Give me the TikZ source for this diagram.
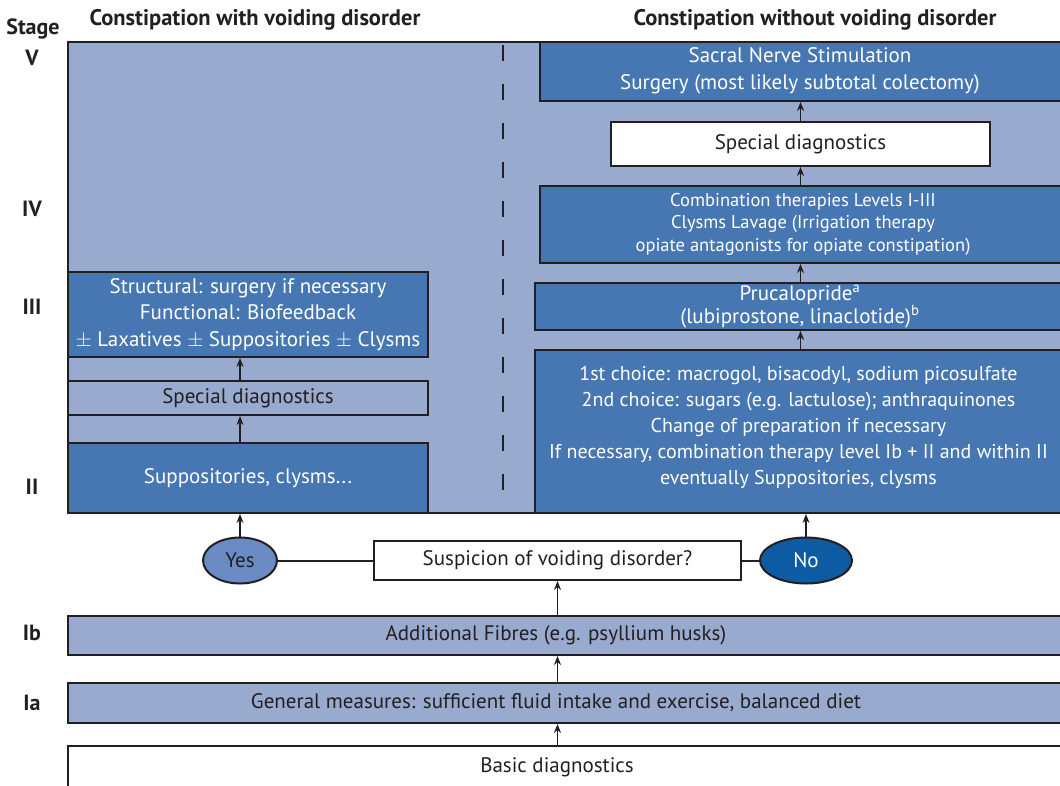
\documentclass[tikz,border=0pt]{standalone}
\usepackage{fontspec}
\setmainfont{PT Sans}
\usetikzlibrary{arrows.meta,shapes.geometric}
\definecolor{panelblue}{HTML}{98AACD}
\definecolor{boxblue}{HTML}{4677B2}
\definecolor{yesblue}{HTML}{6B8BC4}
\definecolor{noblue}{HTML}{0D5BA3}
\definecolor{ink}{HTML}{231F20}

\begin{document}
\begin{tikzpicture}[x=1pt,y=-1pt,
    box/.style={draw=ink,line width=2pt,rectangle,inner sep=0pt,align=center,
      font=\fontsize{21}{26.5}\selectfont},
    darkbox/.style={box,fill=boxblue,text=white},
    lightbox/.style={box,fill=panelblue,text=ink},
    whitebox/.style={box,fill=white,text=ink},
    boxtext/.style={align=center,inner sep=0pt,font=\fontsize{21}{26.5}\selectfont},
    answer/.style={draw=ink,line width=2pt,ellipse,inner sep=0pt,
      minimum height=46pt,font=\fontsize{21}{22}\selectfont},
    arr/.style={line width=1.6pt,draw=ink,-{Stealth[length=9pt,width=7pt]}},
    stagelabel/.style={font=\bfseries\fontsize{22}{22}\selectfont,text=ink},
    head/.style={font=\bfseries\fontsize{22.5}{22}\selectfont,text=ink}]
  \useasboundingbox (0,0) rectangle (1060,785);
  \clip (0,0) rectangle (1060,785);
  % Background panel
  \node[lightbox,minimum width=1004pt,minimum height=471pt] (panel) at (570,277.5) {};
  \coordinate (dtop) at (503,45);
  \coordinate (dbot) at (503,513);
  \draw[ink,line width=2pt,dash pattern=on 16pt off 23pt] (dtop) -- (dbot);
  % Headings
  \node[head] (hwith) at (255,20) {Constipation with voiding disorder};
  \node[head] (hwithout) at (815,20) {Constipation without voiding disorder};
  % Stages
  \node[stagelabel] (sstage) at (33,29) {Stage};
  \node[stagelabel] (s5) at (32,58) {V};
  \node[stagelabel] (s4) at (32,209) {IV};
  \node[stagelabel] (s3) at (32,307) {III};
  \node[stagelabel] (s2) at (32,487) {II};
  \node[stagelabel] (s1b) at (32,633) {Ib};
  \node[stagelabel] (s1a) at (32,703) {Ia};
  % Right column
  \node[darkbox,minimum width=532pt,minimum height=59pt] (sacral) at (806,71.5) {};
  \node[boxtext,text=white] (sacraltxt) at (800,71)
    {Sacral Nerve Stimulation\\Surgery (most likely subtotal colectomy)};
  \node[whitebox,minimum width=379pt,minimum height=44pt] (rspec) at (800.5,144)
    {Special diagnostics};
  \node[darkbox,minimum width=532pt,minimum height=77pt] (combi) at (806,224.5) {};
  \node[boxtext,text=white,font=\fontsize{18.5}{22.5}\selectfont] (combitxt) at (803,224)
    {Combination therapies Levels I-III\\Clysms Lavage (Irrigation therapy\\opiate antagonists for opiate constipation)};
  \node[darkbox,minimum width=537pt,minimum height=47pt] (pruc) at (803.5,306.5) {};
  \node[boxtext,text=white,font=\fontsize{21}{23}\selectfont] (pructxt) at (800,306.5)
    {Prucalopride\textsuperscript{a}\\(lubiprostone, linaclotide)\textsuperscript{b}};
  \node[darkbox,minimum width=537pt,minimum height=163pt] (first) at (803.5,431.5) {};
  \node[boxtext,text=white,font=\fontsize{20}{26}\selectfont] (firsttxt) at (798.5,427)
    {1st choice: macrogol, bisacodyl, sodium picosulfate\\
     2nd choice: sugars (e.g. lactulose); anthraquinones\\
     Change of preparation if necessary\\
     If necessary, combination therapy level Ib + II and within II\\
     eventually Suppositories, clysms};
  % Left column
  \node[darkbox,minimum width=360pt,minimum height=85pt] (struct) at (248,314.5)
    {Structural: surgery if necessary\\Functional: Biofeedback\\
     $\pm$ Laxatives $\pm$ Suppositories $\pm$ Clysms};
  \node[lightbox,minimum width=360pt,minimum height=34pt] (lspec) at (248,398)
    {Special diagnostics};
  \node[darkbox,minimum width=360pt,minimum height=70pt] (supp) at (248,478)
    {Suppositories, clysms...};
  % Decision
  \node[whitebox,minimum width=367pt,minimum height=39pt] (susp) at (557.5,560.5)
    {Suspicion of voiding disorder?};
  \node[answer,fill=yesblue,text=ink,minimum width=74pt] (yes) at (240,560.5) {Yes};
  \node[answer,fill=noblue,text=white,minimum width=92pt] (no) at (806,560.5) {No};
  % Basic levels
  \node[lightbox,minimum width=1004pt,minimum height=39pt] (fibres) at (570,635.5) {};
  \node[boxtext,text=ink] (fibrestxt) at (556,635.5)
    {Additional Fibres (e.g. psyllium husks)};
  \node[lightbox,minimum width=1004pt,minimum height=40pt] (general) at (570,703) {};
  \node[boxtext,text=ink] (generaltxt) at (556,703)
    {General measures: sufficient fluid intake and exercise, balanced diet};
  \node[whitebox,minimum width=1004pt,minimum height=44pt] (basic) at (570,768) {};
  \node[boxtext,text=ink] (basictxt) at (557,767) {Basic diagnostics};
  % Connectors
  \draw[ink,line width=2pt] (yes) -- (susp);
  \draw[ink,line width=2pt] (susp) -- (no);
  \draw[arr] (basic.north -| susp) -- (general.south -| susp);
  \draw[arr] (general.north -| susp) -- (fibres.south -| susp);
  \draw[arr] (fibres.north -| susp) -- (susp.south);
  \draw[arr] (yes.north) -- (supp.south -| yes);
  \draw[arr] (supp.north -| yes) -- (lspec.south -| yes);
  \draw[arr] (lspec.north -| yes) -- (struct.south -| yes);
  \draw[arr] (no.north) -- (first.south -| no);
  \draw[arr] (first.north -| rspec) -- (pruc.south -| rspec);
  \draw[arr] (pruc.north -| rspec) -- (combi.south -| rspec);
  \draw[arr] (combi.north -| rspec) -- (rspec.south);
  \draw[arr] (rspec.north) -- (sacral.south -| rspec);
\end{tikzpicture}
\end{document}
